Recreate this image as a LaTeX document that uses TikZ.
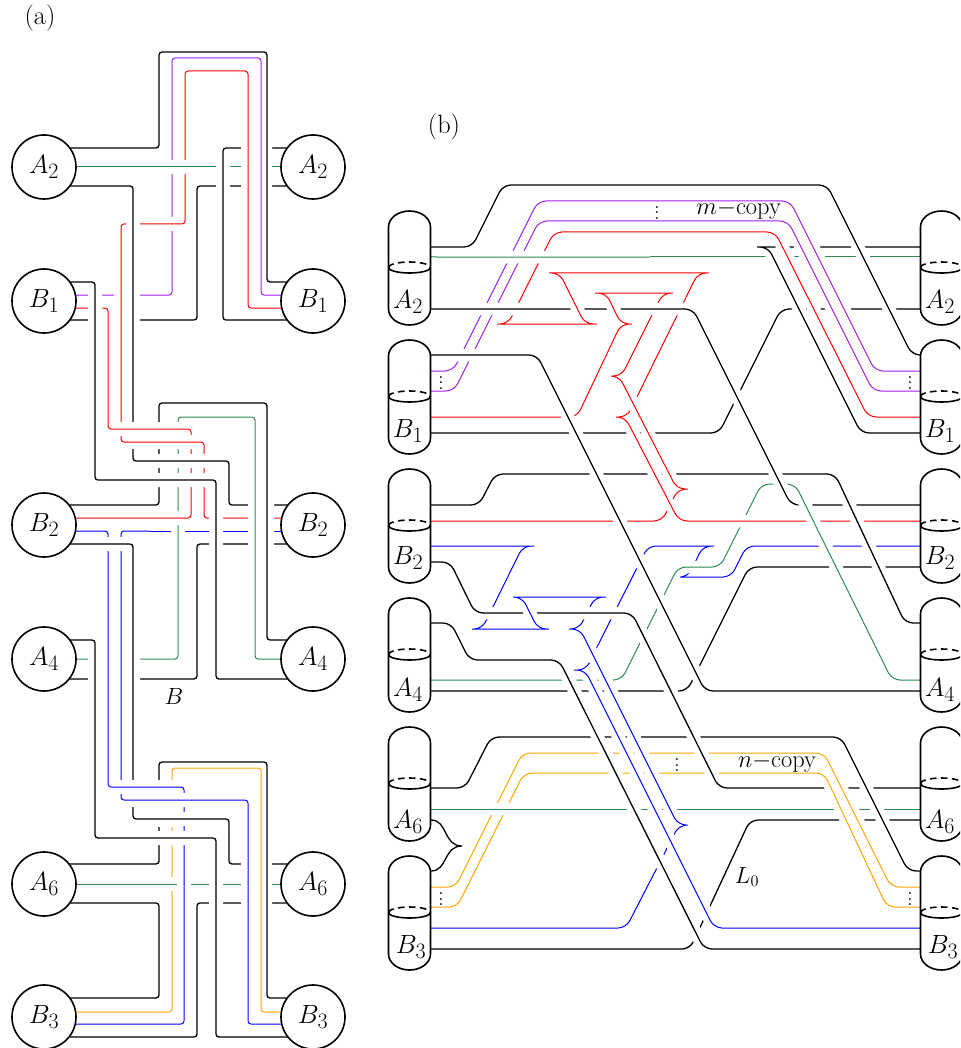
\documentclass[tikz,border=0pt]{standalone}
\usepackage{amsmath,amssymb}
\usepackage{xcolor}
\usetikzlibrary{positioning,calc}
\definecolor{wiregreen}{RGB}{46,139,87}
\definecolor{wirepurple}{RGB}{160,32,240}
\definecolor{wireorange}{RGB}{255,165,0}
\newcommand{\halowidth}{14pt}
\tikzset{
  strand/.style={preaction={draw=white,line width=\halowidth},line width=1.3pt},
  kw/.style={strand,black},
  kn/.style={preaction={draw=white,line width=10pt},line width=1.3pt,black},
  rw/.style={strand,red,line width=1pt},
  bw/.style={strand,blue,line width=1pt},
  gw/.style={strand,wiregreen,line width=1pt},
  pw/.style={strand,wirepurple,line width=1pt},
  ow/.style={strand,wireorange,line width=1pt},
  ball/.style={circle,draw,fill=white,line width=1.6pt,scale=1.06,minimum size=60.4pt,inner sep=0pt,font=\Huge},
  title/.style={font=\Huge,scale=1.06,inner sep=0pt},
  note/.style={font=\huge,scale=1.13,inner sep=0pt},
  dots/.style={font=\Large,scale=1.35,inner sep=0pt}
}
% capsule: name, centre x, top y, label, label dx, label dy
\newcommand{\capsule}[6]{
  \draw[line width=1.6pt,fill=white] (#2-21,#3+16) arc[start angle=180,end angle=0,x radius=21pt,y radius=16pt]
    -- (#2+21,#3+98) arc[start angle=0,end angle=-180,x radius=21pt,y radius=16pt] -- cycle;
  \draw[line width=1.6pt] (#2-21,#3+56.5) arc[start angle=180,end angle=360,x radius=21pt,y radius=5.5pt];
  \draw[line width=1.6pt,dash pattern=on 6.5pt off 4.5pt] (#2-21,#3+56.5) arc[start angle=180,end angle=0,x radius=21pt,y radius=5.5pt];
  \node[title] (#1) at (#2+#5,#3+#6) {$#4$};
}
\begin{document}
\begin{tikzpicture}[x=1pt,y=-1pt]
    \clip (0,0) rectangle (960,1048);
    \node[title] (parta) at (40,18) {(a)};
    \node[title] (partb) at (444,127) {(b)};

    \begin{scope}[rounded corners=3pt]
    % (a) upper block
    \draw[kw] (60,320) -- (197,320) -- (197,186) -- (300,186);
    \draw[gw] (200,167) -- (300,167);
    \draw[kw] (300,148) -- (223,148) -- (223,320) -- (300,320);
    \draw[pw] (60,295) -- (172,295) -- (172,58) -- (261,58) -- (261,295) -- (300,295);
    \draw[rw] (300,308) -- (248,308) -- (248,71) -- (185,71) -- (185,224) -- (121,224) -- (121,429);
    \draw[gw] (60,167) -- (200,167);
    \draw[kn] (60,148) -- (159,148) -- (159,52) -- (267,52) -- (267,282) -- (300,282);
    \draw[kw] (60,186) -- (133,186) -- (133,429);

    % (a) middle block
    \draw[kw] (300,544) -- (197,544) -- (197,679) -- (60,679);
    \draw[bw] (150,531) -- (300,531);
    \draw[kw] (60,505) -- (159,505) -- (159,403) -- (216,403);
    \draw[gw] (60,659) -- (178,659) -- (178,417) -- (216,417);
    \draw[rw] (60,308) -- (108,308) -- (108,429) -- (191,429) -- (191,436);
    \draw[rw] (191,436) -- (191,518) -- (60,518);
    \draw[rw] (121,436) -- (121,442) -- (204,442) -- (204,518) -- (300,518);
    \draw[kw] (133,449) -- (133,461) -- (229,461) -- (229,505) -- (300,505);
    \draw[gw] (216,417) -- (255,417) -- (255,659) -- (300,659);
    \draw[kw] (216,403) -- (267,403) -- (267,640) -- (300,640);
    \draw[kw] (60,282) -- (95,282) -- (95,480) -- (216,480) -- (216,679) -- (300,679);
    \draw[bw] (60,531) -- (108,531) -- (108,720);
    \draw[bw] (150,531) -- (121,531) -- (121,780);

    % (a) lower block
    \draw[kw] (300,903) -- (197,903) -- (197,1037) -- (60,1037);
    \draw[kw] (60,903) -- (159,903) -- (159,998) -- (60,998);
    \draw[kw] (229,830) -- (229,864) -- (300,864);
    \draw[gw] (178,884) -- (300,884);
    \draw[kw] (60,864) -- (159,864) -- (159,827);
    \draw[ow] (60,1012) -- (172,1012) -- (172,827);
    \draw[ow] (172,781) -- (172,768) -- (261,768) -- (261,1012) -- (300,1012);
    \draw[kn] (159,781) -- (159,762) -- (267,762) -- (267,998) -- (300,998);
    \draw[gw] (60,884) -- (178,884);
    \draw[bw] (184,795) -- (184,1024) -- (60,1024);
    \draw[kw] (60,544) -- (133,544) -- (133,787);
    \draw[bw] (108,720) -- (108,787) -- (184,787) -- (184,795);
    \draw[bw] (121,794) -- (121,800) -- (248,800) -- (248,1024) -- (300,1024);
    \draw[kw] (133,807) -- (133,819) -- (229,819) -- (229,830);
    \draw[kw] (60,640) -- (95,640) -- (95,838) -- (216,838) -- (216,1037) -- (300,1037);
    \end{scope}

    % (a) balls
    \node[ball] (lefta2) at (44,167) {$A_2$};
    \node[ball] (righta2) at (313,167) {$A_2$};
    \node[ball] (leftb1) at (44,301) {$B_1$};
    \node[ball] (rightb1) at (313,301) {$B_1$};
    \node[ball] (leftb2) at (44,525) {$B_2$};
    \node[ball] (rightb2) at (313,525) {$B_2$};
    \node[ball] (lefta4) at (44,659) {$A_4$};
    \node[ball] (righta4) at (313,659) {$A_4$};
    \node[ball] (lefta6) at (44,884) {$A_6$};
    \node[ball] (righta6) at (313,884) {$A_6$};
    \node[ball] (leftb3) at (44,1017) {$B_3$};
    \node[ball] (rightb3) at (313,1017) {$B_3$};
    \node[note] (bandb) at (174,696) {$B$};

    \renewcommand{\halowidth}{12.5pt}
    \begin{scope}[rounded corners=8pt]
    % (b) m-copy band, lowest strands
    \draw[kw] (920,309) -- (781,309) -- (719,433) -- (431,433);
    \draw[gw] (650,257) -- (920,257);
    \draw[kw] (920,247) -- (757,247) (757,247) -- (768,247) -- (861,433) -- (920,433);
    \draw[kw] (431,505) -- (479,505) -- (495,474) -- (700,474);
    \draw[kw] (540,309) -- (630,309.02);
    \draw[rw] (920,417) -- (868,417) -- (775,232) -- (554,232) -- (508,324) -- (497,324)
      (497,324) -- (597,324) (597,324) -- (585,324) -- (559.5,273) -- (549,273)
      (549,273) -- (709,273) (709,273) -- (698,273) -- (636.9,397);
    \draw[rw] (670,505) -- (662,521) -- (431,521);

    % (b) strands between the two bands
    \draw[kw] (920,567) -- (749,567) -- (687,691) -- (431,691);
    \draw[bw] (920,546) -- (746.5,546) -- (731,577) -- (678,577)
      (678,577) -- (688,577) -- (703,546) -- (714,546)
      (714,546) -- (648,546) -- (593,655);
    \draw[gw] (431,680) -- (621.5,680) -- (678,567) -- (720,567) -- (761.5,484) -- (775,484);
    \draw[rw] (630.5,410) -- (627,417) -- (616,417) (616,417) -- (625,417) -- (679,521) -- (920,521);
    \draw[kw] (787,497) -- (791,505) -- (920,505);
    \draw[kw] (700,474) -- (835,474) -- (905,623) -- (920,623);
    \draw[gw] (775,484) -- (795,484) -- (892,680) -- (920,680);

    % (b) m-copy band, upper strands
    \draw[pw] (431,371) -- (453,371) -- (538,201) -- (790,201) -- (875,371) -- (920,371);
    \draw[pw] (431,391) -- (454,391) -- (539,221) -- (788,221) -- (873,391) -- (920,391);
    \draw[kw] (431,247) -- (472,247) -- (503,185) -- (827,185) -- (912,355) -- (920,355);
    \draw[gw] (431,257) -- (650,257.02);
    \draw[kw] (431,309) -- (540,309.02);
    \draw[rw] (431,417) -- (577,417) -- (621,324) -- (632,324) (632,324) -- (621,324) -- (606,293) -- (595,293)
      (595,293) -- (673,293) (673,293) -- (663,293) -- (621.5,376) -- (611,376)
      (611,376) -- (619,376) -- (677,489) -- (688,489) (688,489) -- (678,489) -- (673,499);
    \draw[kw] (630,309) -- (693,309) -- (787,497);

    % (b) n-copy band
    \draw[kw] (515,613) -- (560,613.02);
    \draw[kw] (431,788) -- (465,788) -- (491,737) -- (760,737);
    \draw[gw] (600,809) -- (920,809);
    \draw[kw] (716,782) -- (719,788) -- (920,788);
    \draw[kw] (920,820) -- (750,820) -- (690,949) -- (431,949);
    \draw[ow] (431,887) -- (455.5,887) -- (522.5,753) -- (824,753) -- (891,887) -- (920,887);
    \draw[ow] (431,907) -- (457,907) -- (524,773) -- (824,773) -- (887,907) -- (920,907);
    \draw[gw] (431,809) -- (600,809);
    \draw[kw] (760,737) -- (841,737) -- (908,871) -- (920,871);
    \draw[line width=1.3pt,sharp corners] (431,820) .. controls (448,820) and (443,846) .. (462,846)
      .. controls (443,846) and (448,871) .. (431,871);
    \draw[bw] (431,546) -- (534,546) (534,546) -- (523,546) -- (482,629) -- (472,629)
      (472,629) -- (549,629) (549,629) -- (538,629) -- (522,597) -- (513,597)
      (513,597) -- (606,597) (606,597) -- (595,597) -- (579,629) -- (569,629)
      (569,629) -- (580,629) -- (678,825) -- (688,825) (688,825) -- (679,825) -- (626,928) -- (431,928);
    \draw[kw] (431,562) -- (450,562) -- (475,613) -- (515,613);
    \draw[kw] (560,613) -- (632,613) -- (716,782);
    \draw[bw] (589,663.5) -- (586,670) -- (574,670) (574,670) -- (585,670) -- (714,928) -- (920,928);
    \draw[kw] (431,623) -- (451,623) -- (469.5,660) -- (559,660) -- (704,949) -- (920,949);
    \draw[kw] (431,355) -- (537,355) -- (705,691) -- (920,691);
    \end{scope}

    % (b) capsules
    \capsule{capla2}{409.5}{211}{A_2}{-1.5}{91}
    \capsule{caplb1}{409.5}{340}{B_1}{-1.5}{91}
    \capsule{caplb2}{409.5}{469}{B_2}{-1.5}{89}
    \capsule{capla4}{409.5}{598}{A_4}{-1.5}{92}
    \capsule{capla6}{409.5}{727}{A_6}{-1.5}{95}
    \capsule{caplb3}{409.5}{856}{B_3}{1.5}{91}
    \capsule{capra2}{941.5}{211}{A_2}{-1.5}{91}
    \capsule{caprb1}{941.5}{340}{B_1}{-1.5}{91}
    \capsule{caprb2}{941.5}{469}{B_2}{-1.5}{89}
    \capsule{capra4}{941.5}{598}{A_4}{-1.5}{92}
    \capsule{capra6}{941.5}{727}{A_6}{-1.5}{95}
    \capsule{caprb3}{941.5}{856}{B_3}{1.5}{91}

    % (b) labels
    \node[title,scale=0.925] (mcopy) at (738.5,210) {$m-$copy};
    \node[title,scale=0.925] (ncopy) at (777,763) {$n-$copy};
    \node[note] (lzero) at (747,877) {$L_0$};
    \node[dots] (mdots) at (657,209) {$\vdots$};
    \node[dots] (ndots) at (677,761) {$\vdots$};
    \node[dots] (dotsb) at (441,379) {$\vdots$};
    \node[dots] (dotsc) at (910,379) {$\vdots$};
    \node[dots] (dotsd) at (441,895) {$\vdots$};
    \node[dots] (dotse) at (910,895) {$\vdots$};
\end{tikzpicture}
\end{document}
